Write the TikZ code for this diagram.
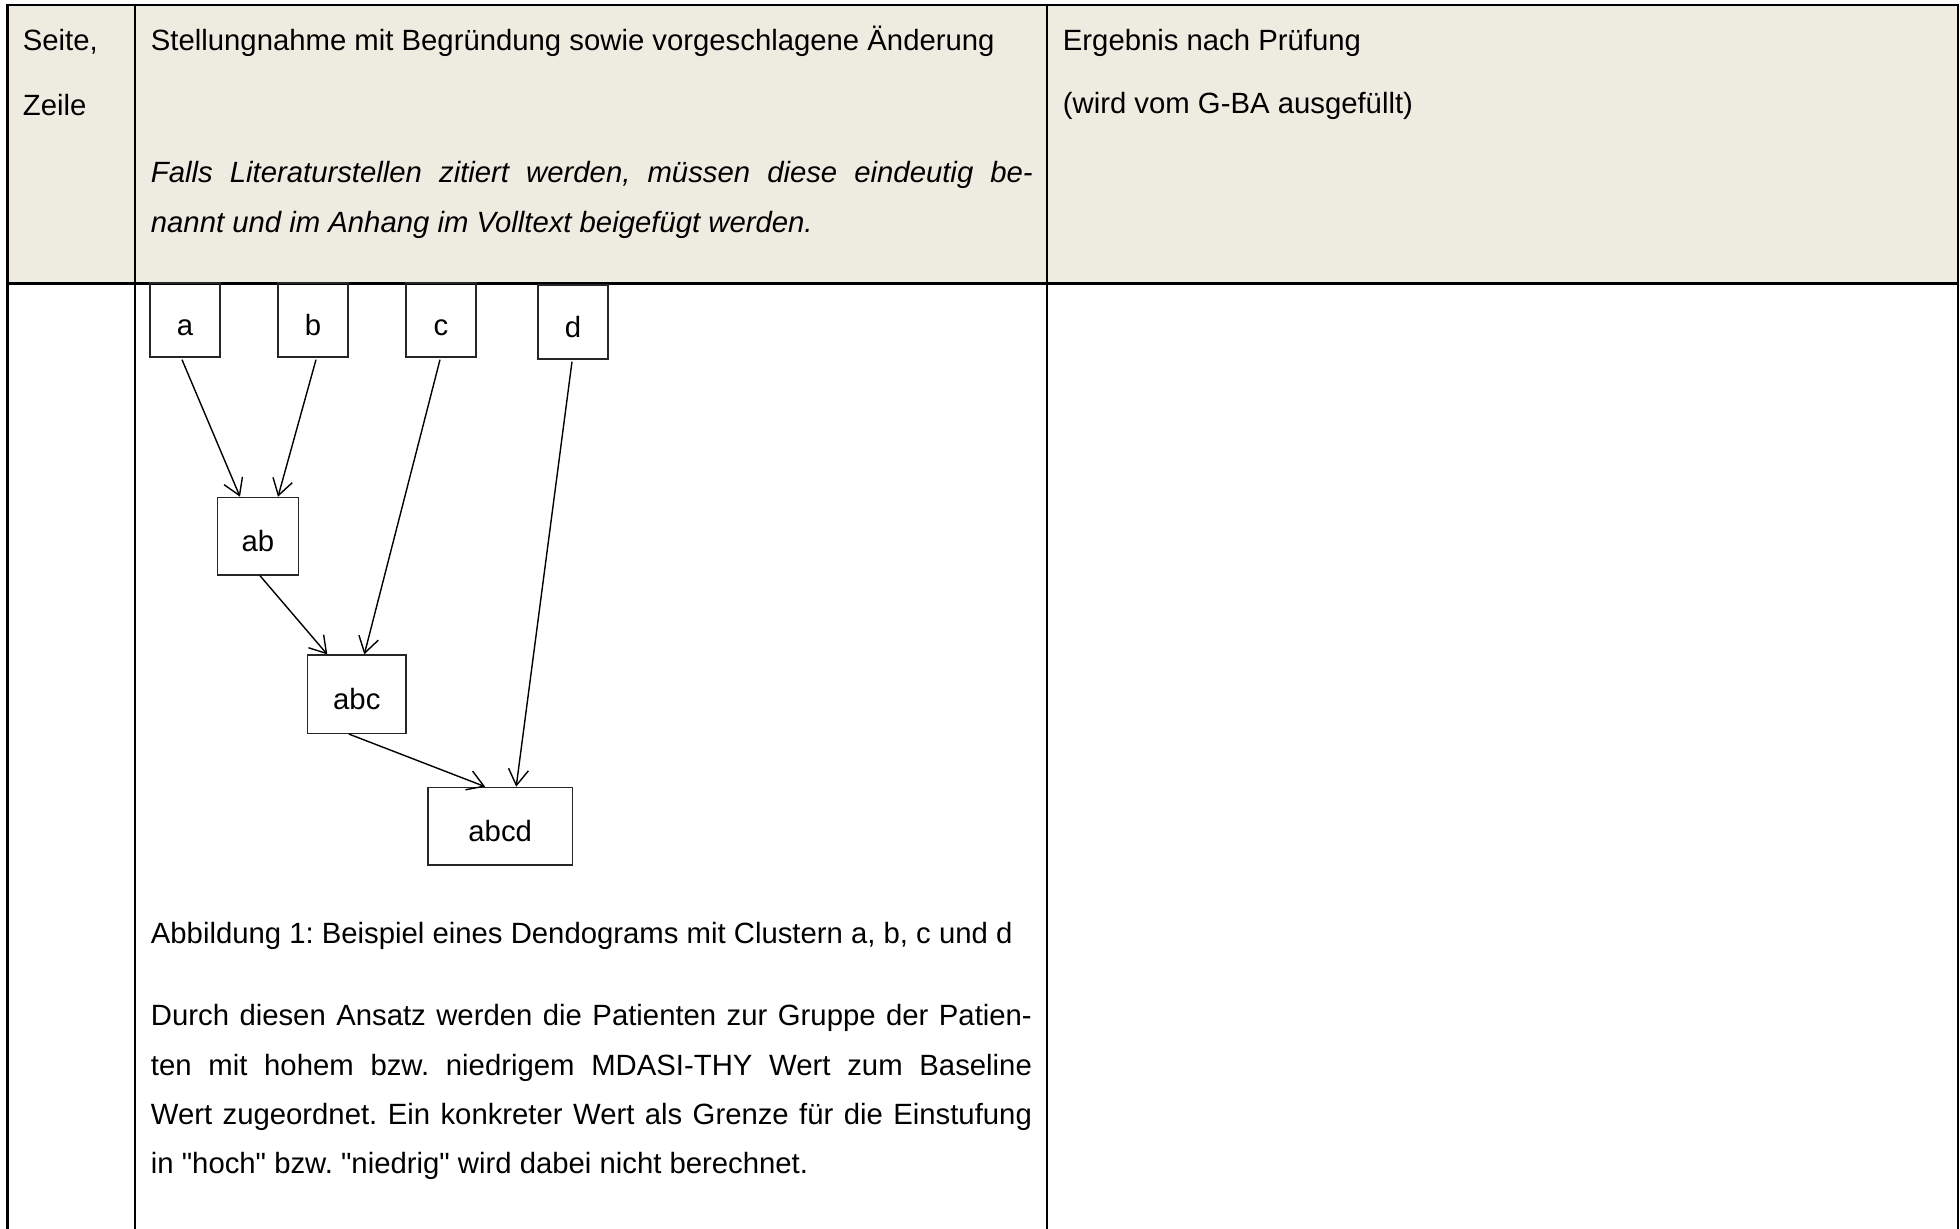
\documentclass[tikz,border=0pt]{standalone}
\usepackage{fontspec}
\setmainfont{Liberation Sans}
\usetikzlibrary{arrows.meta}
\definecolor{hdr}{RGB}{238,236,225}
\frenchspacing
\begin{document}
\begin{tikzpicture}[x=1pt,y=-1pt,
  txt/.style={anchor=base west,inner sep=0pt,font=\fontsize{29.3}{35}\selectfont},
  itxt/.style={anchor=base west,inner sep=0pt,font=\fontsize{29.3}{35}\selectfont\itshape},
  box/.style={draw=black!85,line width=1.3pt,inner sep=0pt,text height=30pt,text depth=0pt,font=\fontsize{29.3}{35}\selectfont},
  arr/.style={line width=1.4pt,-{Straight Barb[length=16pt,width=20pt,line width=1.4pt]}},
  rulethick/.style={line width=2.4pt},
  rulemid/.style={line width=2pt}]
\useasboundingbox (0,0) rectangle (1960,1229);
% header background and table rules
\fill[hdr] (7,5) rectangle (1958,283);
\draw[rulethick] (6,5) -- (1959,5);
\draw[rulethick] (6,283.5) -- (1959,283.5);
\draw[rulethick] (7.3,4) -- (7.3,1229);
\draw[rulemid] (135,5) -- (135,1229);
\draw[rulemid] (1046.7,5) -- (1046.7,1229);
\draw[rulethick] (1958,4) -- (1958,1229);
% header texts
\node[txt] (seite) at (22.7,50) {Seite,};
\node[txt] (zeile) at (22.7,115) {Zeile};
\node[txt] (stell) at (150.7,50) {Stellungnahme mit Begründung sowie vorgeschlagene Änderung};
\node[itxt] (falls1) at (150.7,182) {\makebox[882pt][s]{Falls Literaturstellen zitiert werden, müssen diese eindeutig be-}};
\node[itxt] (falls2) at (150.7,232) {nannt und im Anhang im Volltext beigefügt werden.};
\node[txt] (erg) at (1062.7,50) {Ergebnis nach Prüfung};
\node[txt] (wird) at (1062.7,113) {(wird vom G-BA ausgefüllt)};
% dendrogram
\node[box,minimum width=70pt,minimum height=74pt] (a) at (185,320) {a};
\node[box,minimum width=70pt,minimum height=74pt] (b) at (313,320) {b};
\node[box,minimum width=70pt,minimum height=74pt] (c) at (441,320) {c};
\node[box,minimum width=70pt,minimum height=74pt] (d) at (573,322) {d};
\node[box,minimum width=80.6pt,minimum height=77.7pt] (ab) at (258,536.2) {ab};
\node[box,minimum width=98.3pt,minimum height=78.3pt] (abc) at (356.8,694.2) {abc};
\node[box,minimum width=144.3pt,minimum height=77.7pt] (abcd) at (500.2,826.2) {abcd};
\draw[arr] ([xshift=-3pt,yshift=-2pt]a.south) -- ([xshift=-18pt]ab.north);
\draw[arr] ([xshift=3pt,yshift=-2pt]b.south) -- ([xshift=20pt]ab.north);
\draw[arr] ([xshift=-1pt,yshift=-2pt]c.south) -- ([xshift=7.5pt]abc.north);
\draw[arr] ([xshift=2pt]ab.south) -- ([xshift=-29.5pt]abc.north);
\draw[arr] ([xshift=-1pt,yshift=-2pt]d.south) -- ([xshift=16pt]abcd.north);
\draw[arr] ([xshift=-8pt]abc.south) -- ([xshift=-15pt]abcd.north);
% body texts
\node[txt] (cap) at (150.7,943) {Abbildung 1: Beispiel eines Dendograms mit Clustern a, b, c und d};
\node[txt] (p1) at (150.7,1025) {\makebox[881pt][s]{Durch diesen Ansatz werden die Patienten zur Gruppe der Patien-}};
\node[txt] (p2) at (150.7,1075) {\makebox[881pt][s]{ten mit hohem bzw. niedrigem MDASI-THY Wert zum Baseline}};
\node[txt] (p3) at (150.7,1124) {\makebox[881pt][s]{Wert zugeordnet. Ein konkreter Wert als Grenze für die Einstufung}};
\node[txt] (p4) at (150.7,1173) {in \textquotedbl hoch\textquotedbl{} bzw. \textquotedbl niedrig\textquotedbl{} wird dabei nicht berechnet.};
\end{tikzpicture}
\end{document}
